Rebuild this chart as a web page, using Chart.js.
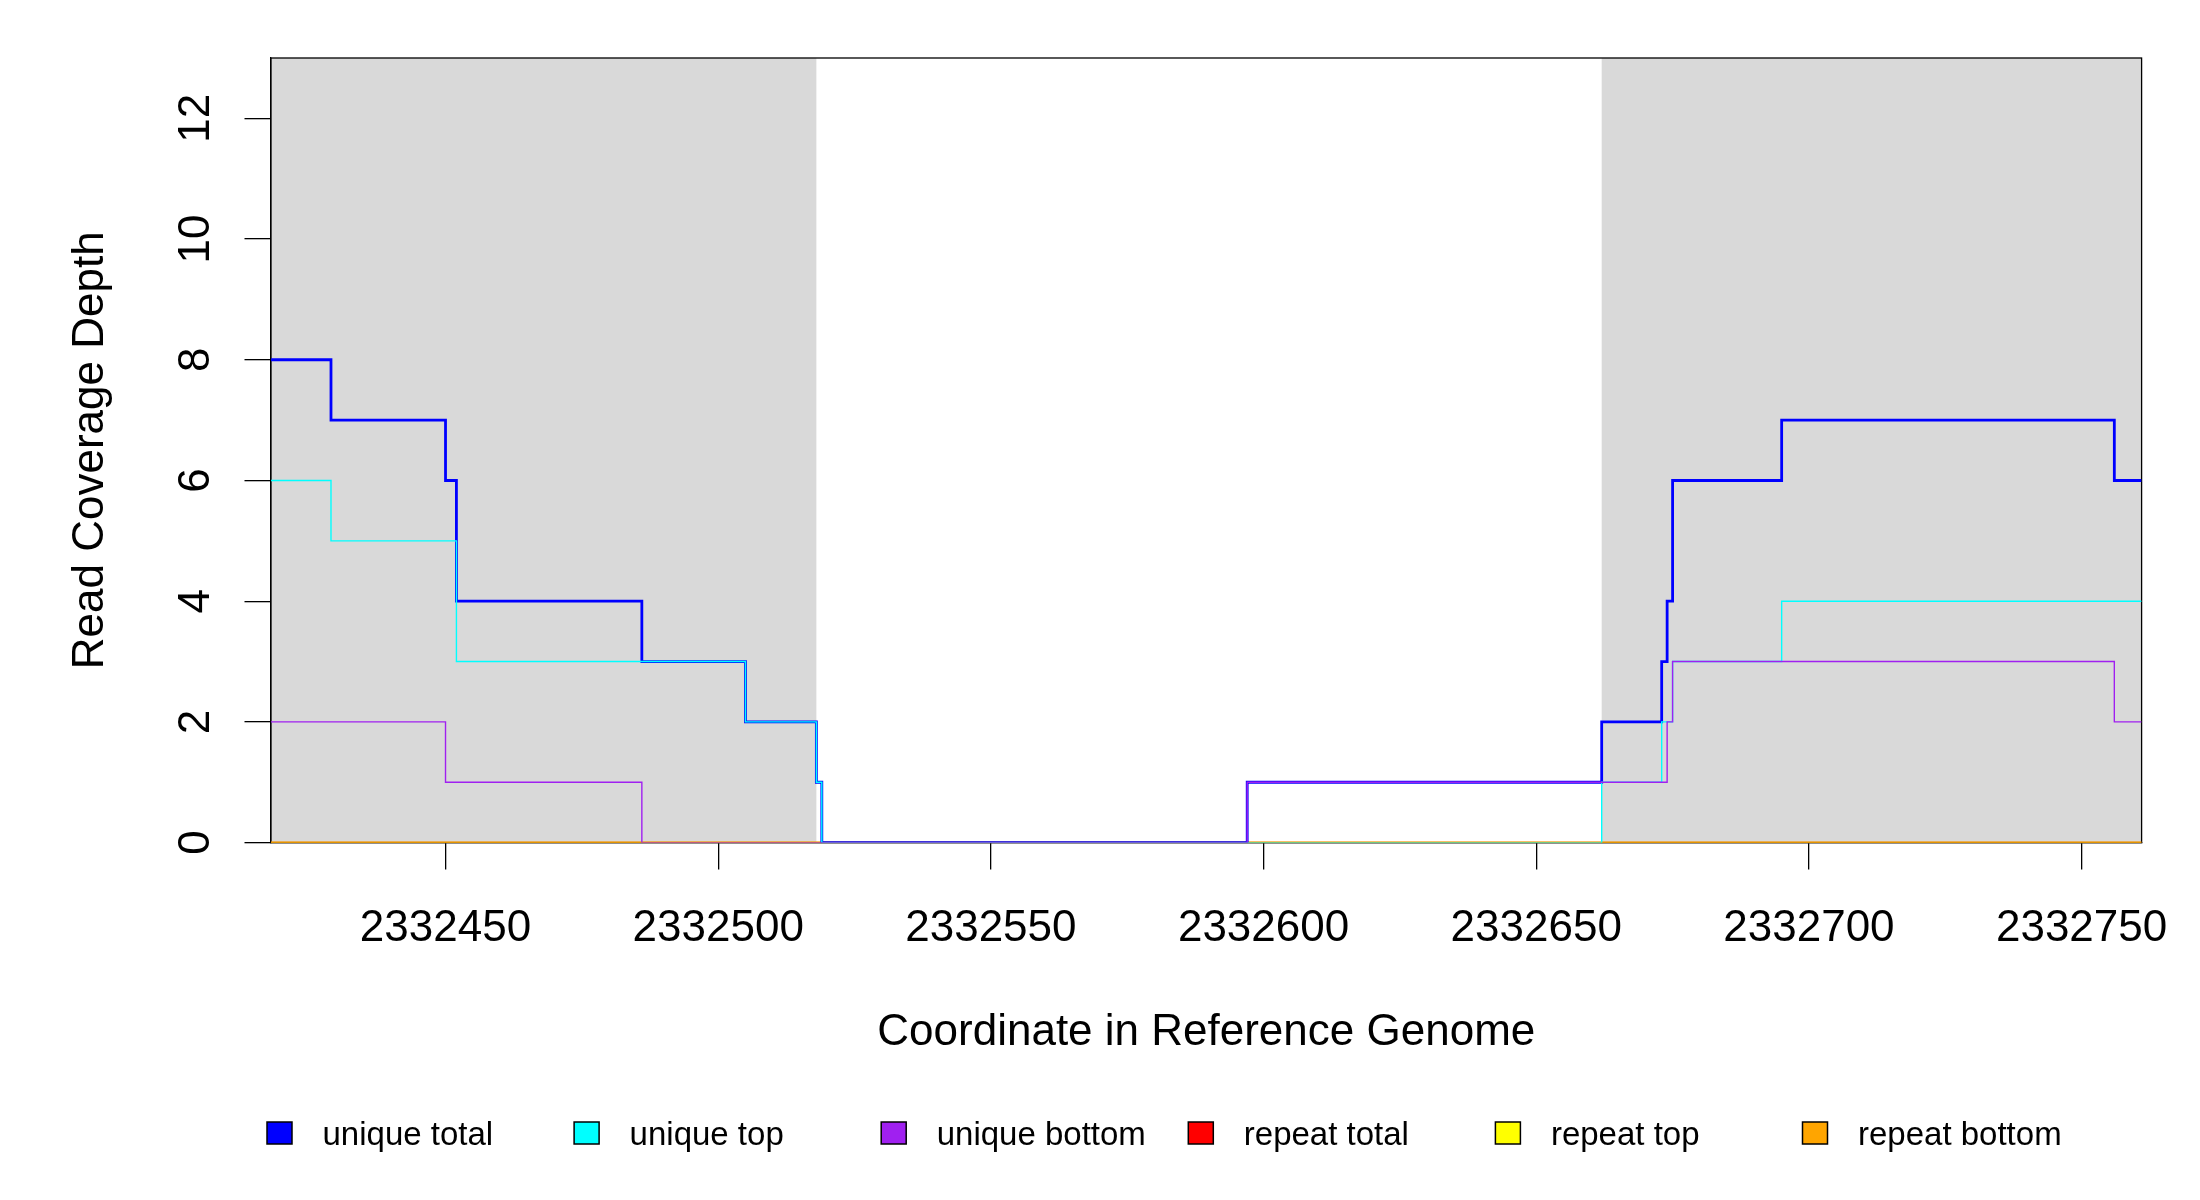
<!DOCTYPE html>
<html>
<head>
<meta charset="utf-8">
<script src="https://cdn.jsdelivr.net/npm/chart.js@4.4.1/dist/chart.umd.min.js"></script>
<style>
  body { margin: 0; background: #ffffff; }
  #wrap { width: 2200px; height: 1200px; }
</style>
</head>
<body>
<div id="wrap"><canvas id="myChart" width="2200" height="1200"></canvas></div>
<script>
// axis range and ticks
var xMin = 2332418
var xMax = 2332761
var yMin = 0
var yMax = 13
var xTicks = [2332450, 2332500, 2332550, 2332600, 2332650, 2332700, 2332750]
var yTicks = [0, 2, 4, 6, 8, 10, 12]

// grey shaded regions
var shadeStart = [2332418, 2332662]
var shadeEnd = [2332518, 2332761]

// coverage steps: position where a level starts, and the level
var uniqueTotalPos = [2332418, 2332429, 2332450, 2332452, 2332486, 2332505, 2332518, 2332519, 2332597, 2332662, 2332673, 2332674, 2332675, 2332695, 2332756, 2332761]
var uniqueTotalVal = [8, 7, 6, 4, 3, 2, 1, 0, 1, 2, 3, 4, 6, 7, 6, 6]

var uniqueTopPos = [2332418, 2332429, 2332452, 2332505, 2332518, 2332519, 2332662, 2332673, 2332675, 2332695, 2332761]
var uniqueTopVal = [6, 5, 3, 2, 1, 0, 1, 2, 3, 4, 4]

var uniqueBottomPos = [2332418, 2332450, 2332486, 2332597, 2332674, 2332675, 2332756, 2332761]
var uniqueBottomVal = [2, 1, 0, 1, 2, 3, 2, 2]

var repeatPos = [2332418, 2332761]
var repeatTotalVal = [0, 0]
var repeatTopVal = [0, 0]
var repeatBottomVal = [0, 0]

var seriesNames = ['unique total', 'unique top', 'unique bottom', 'repeat total', 'repeat top', 'repeat bottom']
var seriesColors = ['#0000FF', '#00FFFF', '#A020F0', '#FF0000', '#FFFF00', '#FFA500']

function toPoints(pos, val) {
    var pts = []
    for (var i = 0; i < pos.length; i++) {
        pts.push({ x: pos[i], y: val[i] })
    }
    return pts
}

var seriesData = [
    toPoints(uniqueTotalPos, uniqueTotalVal),
    toPoints(uniqueTopPos, uniqueTopVal),
    toPoints(uniqueBottomPos, uniqueBottomVal),
    toPoints(repeatPos, repeatTotalVal),
    toPoints(repeatPos, repeatTopVal),
    toPoints(repeatPos, repeatBottomVal)
]
var lineWidths = [2.8, 1.4, 1.4, 1.6, 1.6, 1.6]
var drawOrder = [3, 2, 1, 6, 5, 4] // lower = on top

var datasets = []
for (var i = 0; i < seriesNames.length; i++) {
    datasets.push({
        label: seriesNames[i],
        data: seriesData[i],
        borderColor: seriesColors[i],
        backgroundColor: seriesColors[i],
        borderWidth: lineWidths[i],
        stepped: true,
        pointRadius: 0,
        fill: false,
        order: drawOrder[i]
    })
}

const FONT = '"Liberation Sans", Arial, sans-serif'

// grey background bands, box, and all the R-style text
const decorPlugin = {
    id: 'decor',
    beforeDraw(chart) {
        const ctx = chart.ctx
        ctx.save()
        ctx.fillStyle = '#ffffff'
        ctx.fillRect(0, 0, chart.width, chart.height)
        ctx.restore()
    },
    beforeDatasetsDraw(chart) {
        const ctx = chart.ctx
        const x = chart.scales.x
        const a = chart.chartArea
        ctx.save()
        ctx.fillStyle = '#D9D9D9'
        for (var i = 0; i < shadeStart.length; i++) {
            var x0 = x.getPixelForValue(shadeStart[i])
            var x1 = x.getPixelForValue(shadeEnd[i])
            ctx.fillRect(x0, a.top, x1 - x0, a.bottom - a.top)
        }
        // box (under the lines, as in R where lines cover it)
        ctx.strokeStyle = '#000000'
        ctx.lineWidth = 1.3
        ctx.strokeRect(a.left, a.top, a.right - a.left, a.bottom - a.top)
        ctx.restore()
    },
    afterDraw(chart) {
        const ctx = chart.ctx
        const a = chart.chartArea
        const xs = chart.scales.x
        const ys = chart.scales.y
        ctx.save()

        ctx.fillStyle = '#000000'
        ctx.font = '44px ' + FONT

        // x tick labels
        ctx.textAlign = 'center'
        ctx.textBaseline = 'alphabetic'
        for (var i = 0; i < xTicks.length; i++) {
            ctx.fillText(String(xTicks[i]), xs.getPixelForValue(xTicks[i]), 941)
        }

        // y tick labels, rotated like R
        for (var j = 0; j < yTicks.length; j++) {
            ctx.save()
            ctx.translate(209, ys.getPixelForValue(yTicks[j]))
            ctx.rotate(-Math.PI / 2)
            ctx.fillText(String(yTicks[j]), 0, 0)
            ctx.restore()
        }

        // axis titles
        ctx.fillText('Coordinate in Reference Genome', (a.left + a.right) / 2, 1045)
        ctx.save()
        ctx.translate(103, (a.top + a.bottom) / 2)
        ctx.rotate(-Math.PI / 2)
        ctx.fillText('Read Coverage Depth', 0, 0)
        ctx.restore()

        // legend
        ctx.font = '33px ' + FONT
        ctx.textAlign = 'left'
        for (var k = 0; k < seriesNames.length; k++) {
            var lx = 267 + k * 307.1
            ctx.fillStyle = seriesColors[k]
            ctx.fillRect(lx, 1122, 25, 22)
            ctx.strokeStyle = '#000000'
            ctx.lineWidth = 1.5
            ctx.strokeRect(lx, 1122, 25, 22)
            ctx.fillStyle = '#000000'
            ctx.fillText(seriesNames[k], lx + 55.5, 1145)
        }
        ctx.restore()
    }
}

const config = {
    type: 'line',
    data: { datasets: datasets },
    options: {
        responsive: false,
        devicePixelRatio: 1,
        animation: false,
        layout: {
            padding: { left: 0, right: 58.4, top: 58, bottom: 0 }
        },
        plugins: {
            legend: { display: false },
            tooltip: { enabled: false },
            title: { display: false }
        },
        scales: {
            x: {
                type: 'linear',
                min: xMin,
                max: xMax,
                afterBuildTicks: function (scale) {
                    scale.ticks = xTicks.map(v => ({ value: v }))
                },
                afterFit: function (scale) {
                    scale.height = 357.4
                },
                ticks: { display: false },
                grid: {
                    drawOnChartArea: false,
                    drawTicks: true,
                    tickLength: 27,
                    color: '#000000',
                    lineWidth: 1.3
                },
                border: { display: true, color: '#000000', width: 1.3 }
            },
            y: {
                type: 'linear',
                min: yMin,
                max: yMax,
                afterBuildTicks: function (scale) {
                    scale.ticks = yTicks.map(v => ({ value: v }))
                },
                afterFit: function (scale) {
                    scale.width = 271
                },
                ticks: { display: false },
                grid: {
                    drawOnChartArea: false,
                    drawTicks: true,
                    tickLength: 26.5,
                    color: '#000000',
                    lineWidth: 1.3
                },
                border: { display: true, color: '#000000', width: 1.3 }
            }
        }
    },
    plugins: [decorPlugin]
}

const myChart = new Chart(
    document.getElementById('myChart'),
    config
)
</script>
</body>
</html>
